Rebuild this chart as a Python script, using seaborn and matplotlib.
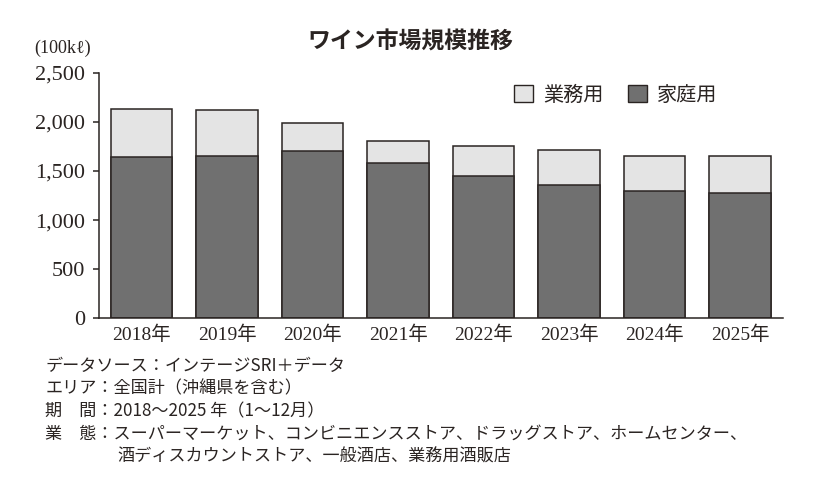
import matplotlib
matplotlib.use('Agg')
import matplotlib.pyplot as plt
from matplotlib.patches import Patch
import pandas as pd
import seaborn as sns

# データ (100kℓ)
years = ['2018年', '2019年', '2020年', '2021年', '2022年', '2023年', '2024年', '2025年']
home = [1642, 1649, 1703, 1584, 1452, 1357, 1296, 1272]       # 家庭用
business = [486, 475, 288, 221, 299, 353, 353, 383]          # 業務用
yticks = [0, 500, 1000, 1500, 2000, 2500]

notes = [
    'データソース：インテージSRI＋データ',
    'エリア：全国計（沖縄県を含む）',
    '期　間：2018～2025 年（1～12月）',
    '業　態：スーパーマーケット、コンビニエンスストア、ドラッグストア、ホームセンター、',
]
notes_cont = '酒ディスカウントストア、一般酒店、業務用酒販店'

sns.set_style('ticks')
plt.rcParams['font.family'] = ['Noto Sans CJK JP', 'DejaVu Sans']

ink = '#2a2422'
dark = '#707070'
light = '#e4e4e4'
serif = ['Liberation Serif', 'Noto Sans CJK JP', 'DejaVu Serif']

df = pd.DataFrame({'year': years, 'home': home, 'business': business})
df['total'] = df['home'] + df['business']

fig = plt.figure(figsize=(8.2, 4.9), dpi=100)
ax = fig.add_axes([0.1207, 0.3504, 0.834, 0.5012])

sns.barplot(data=df, x='year', y='total', color=light, saturation=1,
            width=0.72, edgecolor=ink, linewidth=1.1, ax=ax)
sns.barplot(data=df, x='year', y='home', color=dark, saturation=1,
            width=0.72, edgecolor=ink, linewidth=1.1, ax=ax)

ax.set_xlim(-0.5, len(years) - 0.5)
ax.set_ylim(0, 2500)
ax.set_yticks(yticks)
ax.set_yticklabels([f'{v:,}' for v in yticks], family=serif, fontsize=16, color=ink)
ax.set_xticks(range(len(years)))
ax.set_xticklabels(years, family=serif, fontsize=14, color=ink)
ax.tick_params(axis='x', length=0, pad=5)
ax.tick_params(axis='y', length=4, width=1.1, color=ink, pad=6, direction='out')
ax.set_xlabel('')
ax.set_ylabel('')
sns.despine(ax=ax)
for s in ['left', 'bottom']:
    ax.spines[s].set_color(ink)
    ax.spines[s].set_linewidth(1.1)

fig.text(0.5, 0.915, 'ワイン市場規模推移', ha='center', va='center',
         fontsize=16.5, fontweight='bold', color=ink)
fig.text(0.042, 0.902, '(100kℓ)', ha='left', va='center',
         family=serif, fontsize=13, color=ink)

handles = [Patch(facecolor=light, edgecolor=ink, linewidth=1.0, label='業務用'),
           Patch(facecolor=dark, edgecolor=ink, linewidth=1.0, label='家庭用')]
leg = fig.legend(handles=handles, loc='center', bbox_to_anchor=(0.751, 0.806),
                 ncol=2, frameon=False, fontsize=14.5, handlelength=0.95,
                 handleheight=0.95, handletextpad=0.5, columnspacing=1.2)
for t in leg.get_texts():
    t.set_color(ink)

line_y = [0.253, 0.207, 0.161, 0.114]
for y, s in zip(line_y, notes):
    fig.text(0.055, y, s, ha='left', va='center', fontsize=12.3, color=ink)
fig.text(0.143, 0.068, notes_cont, ha='left', va='center', fontsize=12.3, color=ink)

fig.savefig('out.png', dpi=100)
